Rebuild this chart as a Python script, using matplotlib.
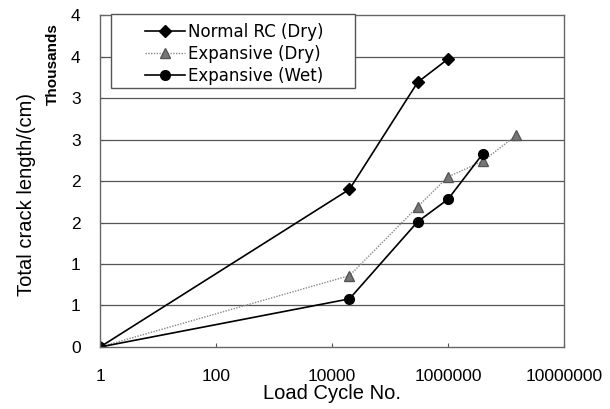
import matplotlib.pyplot as plt
from matplotlib.patches import Rectangle

# data (crack length in cm)
normal_x = [1, 20000, 300000, 1000000]
normal_y = [0, 1900, 3190, 3470]

exp_dry_x = [1, 20000, 300000, 1000000, 4000000, 15000000]
exp_dry_y = [0, 860, 1690, 2050, 2240, 2550]

exp_wet_x = [1, 20000, 300000, 1000000, 4000000]
exp_wet_y = [0, 580, 1510, 1780, 2330]

x_ticks = [1, 100, 10000, 1000000, 100000000]
x_labels = ['1', '100', '10000', '1000000', '10000000']
y_ticks = [0, 500, 1000, 1500, 2000, 2500, 3000, 3500, 4000]
y_labels = ['0', '1', '1', '2', '2', '3', '3', '4', '4']

plt.rcParams['font.family'] = ['Liberation Sans', 'DejaVu Sans']

fig = plt.figure(figsize=(6.1, 4.09), dpi=100)
ax = fig.add_axes([0.164, 0.1516, 0.7606, 0.8117])

for y in y_ticks[1:-1]:
    ax.axhline(y, color='#555555', lw=0.9, zorder=0)

ax.plot(normal_x, normal_y, color='black', lw=1.2, marker='D', ms=6,
        mfc='black', mec='black', label='Normal RC (Dry)')
ax.plot(exp_dry_x, exp_dry_y, color='#888888', lw=1.0, ls=(0, (1, 1)),
        marker='^', ms=7, mfc='#777777', mec='#555555', label='Expansive (Dry)')
ax.plot(exp_wet_x, exp_wet_y, color='black', lw=1.2, marker='o', ms=7,
        mfc='black', mec='black', label='Expansive (Wet)')

ax.set_xscale('log')
ax.set_xlim(1, 1e8)
ax.set_ylim(0, 4000)
ax.set_xticks(x_ticks)
ax.set_xticklabels(x_labels)
ax.xaxis.set_minor_locator(plt.NullLocator())
ax.set_yticks(y_ticks)
ax.set_yticklabels(y_labels)
ax.tick_params(axis='both', direction='in', length=3, color='#555555',
               labelsize=12.5)
ax.tick_params(axis='y', pad=14)
ax.tick_params(axis='x', pad=16)

for s in ax.spines.values():
    s.set_linestyle((0, (1, 1)))
    s.set_color('#666666')
    s.set_linewidth(1.0)

ax.set_xlabel('Load Cycle No.', fontsize=14.5, labelpad=0)
ax.set_ylabel('Total crack length/(cm)', fontsize=14.5)
ax.yaxis.set_label_coords(-0.138, 0.46)
ax.text(-0.101, 0.852, 'Thousands', transform=ax.transAxes, rotation=90,
        fontsize=11, fontweight='bold', ha='center', va='center')

# legend box drawn separately so the handles can sit well inside it
ax.add_patch(Rectangle((0.0237, 0.780), 0.526, 0.223, transform=ax.transAxes,
                       facecolor='white', edgecolor='#555555', lw=1.0,
                       clip_on=False, zorder=4))
leg = ax.legend(loc='upper left', bbox_to_anchor=(0.097, 0.975),
                prop={'family': 'DejaVu Sans', 'size': 12},
                frameon=False, handlelength=2.4, borderpad=0,
                labelspacing=0.22, handletextpad=0.2, borderaxespad=0)
leg.set_zorder(5)

plt.savefig('out.png')
